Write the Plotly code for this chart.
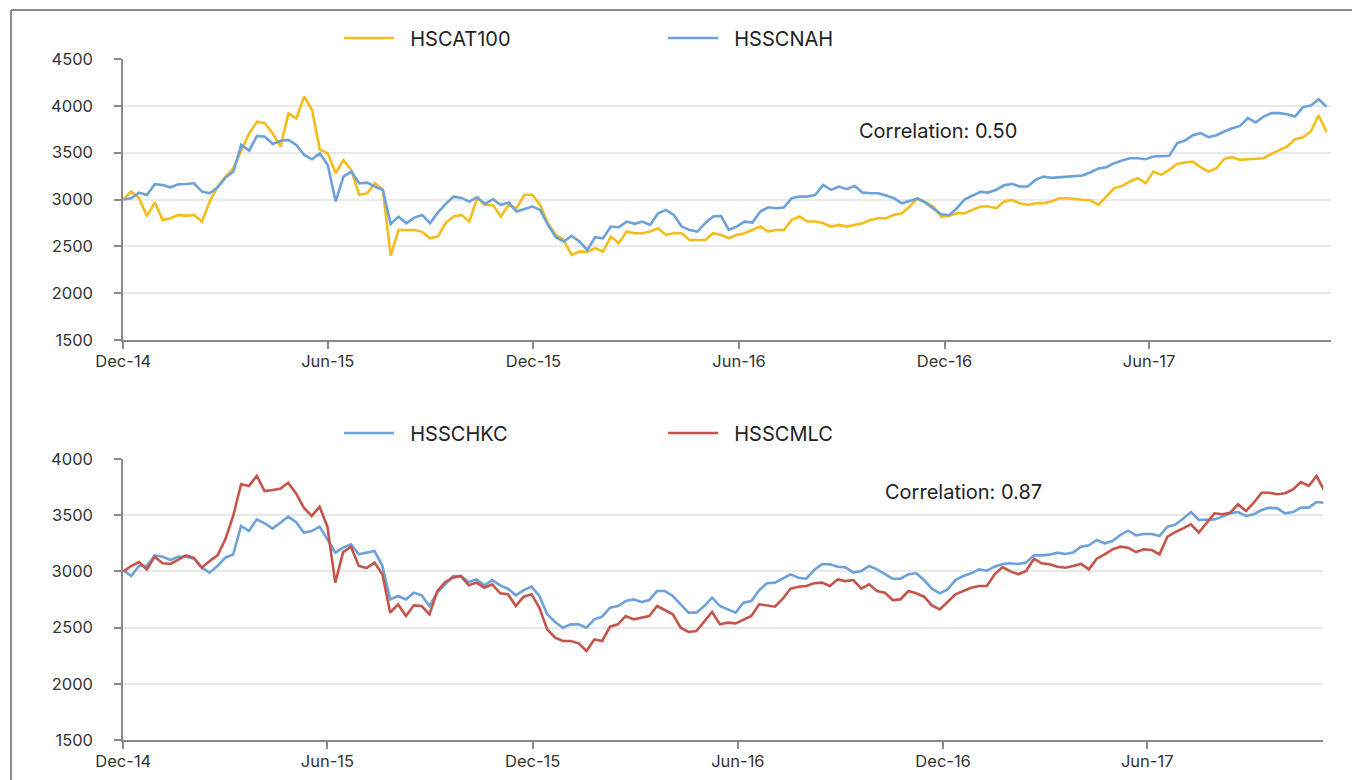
import plotly.graph_objects as go
import pandas as pd

# ---------------- data (weekly samples) ----------------
week_dates = pd.date_range("2014-12-01", periods=154, freq="7D")

hscat100 = [3000, 3085, 3015, 2820, 2970, 2780, 2800, 2835, 2825, 2835,
            2765, 2980, 3140, 3245, 3335, 3530, 3705, 3830, 3815, 3705,
            3565, 3920, 3865, 4100, 3955, 3530, 3495, 3280, 3420, 3315,
            3050, 3065, 3175, 3100, 2400, 2675, 2675, 2675, 2655, 2585,
            2605, 2750, 2818, 2836, 2765, 3015, 2942, 2942, 2818, 2942,
            2907, 3050, 3050, 2942, 2747, 2622, 2568, 2408, 2444, 2444,
            2480, 2444, 2604, 2533, 2658, 2640, 2640, 2658, 2693, 2622,
            2640, 2640, 2568, 2568, 2568, 2640, 2622, 2586, 2622, 2640,
            2675, 2711, 2658, 2675, 2675, 2782, 2818, 2765, 2765, 2747,
            2711, 2729, 2711, 2729, 2747, 2782, 2800, 2800, 2836, 2853,
            2925, 3014, 2967, 2925, 2818, 2825, 2853, 2853, 2889, 2925,
            2925, 2907, 2978, 2996, 2960, 2942, 2960, 2960, 2978, 3014,
            3014, 3003, 2996, 2989, 2942, 3031, 3120, 3145, 3192, 3227,
            3174, 3298, 3263, 3316, 3380, 3395, 3405, 3345, 3298, 3334,
            3434, 3452, 3423, 3430, 3434, 3441, 3487, 3530, 3566, 3644,
            3665, 3726, 3900, 3720]

hsscnah = [3000, 3013, 3073, 3049, 3163, 3155, 3130, 3163, 3166, 3173,
           3084, 3067, 3130, 3234, 3298, 3582, 3522, 3678, 3671, 3593,
           3628, 3636, 3582, 3475, 3429, 3493, 3369, 2980, 3244, 3298,
           3173, 3180, 3137, 3102, 2739, 2817, 2746, 2807, 2835, 2746,
           2860, 2953, 3031, 3017, 2978, 3024, 2953, 3003, 2942, 2967,
           2871, 2896, 2925, 2889, 2729, 2597, 2551, 2611, 2551, 2462,
           2597, 2586, 2711, 2704, 2764, 2740, 2764, 2729, 2853, 2889,
           2836, 2711, 2675, 2658, 2747, 2818, 2825, 2675, 2711, 2764,
           2754, 2871, 2917, 2907, 2914, 3014, 3031, 3031, 3049, 3156,
           3103, 3138, 3110, 3145, 3074, 3067, 3067, 3042, 3014, 2960,
           2989, 3010, 2967, 2907, 2843, 2832, 2907, 3003, 3039, 3081,
           3074, 3103, 3152, 3167, 3138, 3138, 3209, 3245, 3231, 3238,
           3245, 3245, 3256, 3291, 3331, 3345, 3388, 3416, 3441, 3441,
           3430, 3459, 3466, 3466, 3601, 3630, 3687, 3708, 3665, 3687,
           3726, 3761, 3786, 3868, 3822, 3886, 3922, 3922, 3911, 3886,
           3986, 4004, 4070, 3990]

hsschkc = [3012, 2959, 3048, 3048, 3143, 3131, 3101, 3131, 3131, 3113,
           3033, 2988, 3048, 3122, 3152, 3404, 3359, 3463, 3428, 3380,
           3433, 3487, 3439, 3344, 3359, 3398, 3285, 3167, 3211, 3241,
           3152, 3167, 3181, 3048, 2751, 2781, 2751, 2811, 2787, 2692,
           2811, 2885, 2959, 2959, 2906, 2929, 2876, 2923, 2876, 2846,
           2787, 2834, 2864, 2781, 2618, 2550, 2499, 2529, 2529, 2499,
           2573, 2597, 2677, 2692, 2736, 2751, 2727, 2745, 2825, 2825,
           2781, 2707, 2633, 2633, 2692, 2766, 2692, 2662, 2633, 2722,
           2736, 2834, 2894, 2900, 2935, 2974, 2944, 2935, 3012, 3063,
           3063, 3042, 3036, 2989, 3003, 3048, 3018, 2974, 2935, 2935,
           2974, 2983, 2923, 2846, 2805, 2840, 2923, 2959, 2983, 3018,
           3006, 3042, 3066, 3072, 3066, 3078, 3143, 3143, 3149, 3167,
           3155, 3167, 3220, 3232, 3279, 3250, 3270, 3324, 3362, 3321,
           3333, 3333, 3315, 3398, 3416, 3469, 3528, 3457, 3457, 3463,
           3487, 3517, 3528, 3493, 3508, 3546, 3567, 3561, 3517, 3528,
           3567, 3567, 3617, 3611]

hsscmlc = [3000, 3048, 3083, 3018, 3131, 3072, 3066, 3107, 3143, 3120,
           3033, 3092, 3143, 3285, 3493, 3775, 3760, 3849, 3715, 3724,
           3736, 3789, 3694, 3567, 3493, 3576, 3398, 2900, 3172, 3220,
           3048, 3030, 3078, 2974, 2633, 2707, 2603, 2698, 2692, 2618,
           2825, 2906, 2944, 2959, 2876, 2900, 2855, 2885, 2805, 2796,
           2692, 2775, 2796, 2677, 2484, 2410, 2381, 2381, 2360, 2292,
           2395, 2381, 2508, 2529, 2603, 2573, 2588, 2603, 2692, 2656,
           2618, 2499, 2461, 2470, 2559, 2639, 2529, 2544, 2538, 2567,
           2603, 2707, 2698, 2686, 2757, 2846, 2864, 2870, 2894, 2900,
           2870, 2929, 2914, 2923, 2846, 2885, 2825, 2811, 2745, 2751,
           2825, 2805, 2775, 2698, 2662, 2728, 2796, 2825, 2855, 2870,
           2870, 2974, 3039, 3000, 2974, 3003, 3113, 3072, 3063, 3042,
           3033, 3048, 3066, 3018, 3113, 3152, 3196, 3220, 3211, 3172,
           3196, 3190, 3152, 3309, 3350, 3383, 3419, 3345, 3434, 3517,
           3508, 3522, 3597, 3537, 3611, 3700, 3700, 3686, 3695, 3730,
           3795, 3760, 3850, 3715]

tick_dates = ["2014-12-01", "2015-06-01", "2015-12-01",
              "2016-06-01", "2016-12-01", "2017-06-01"]
tick_labels = ["Dec-14", "Jun-15", "Dec-15", "Jun-16", "Dec-16", "Jun-17"]
correlation_texts = ["Correlation: 0.50", "Correlation: 0.87"]

# ---------------- style ----------------
# The page body adds an 8px margin, so the figure is 1352x772 and all
# layout positions below are in figure pixels (page pixels minus 8).
W, H = 1352, 772
YELLOW = "#F3BD1C"
BLUE = "#6CA1D9"
RED = "#C5544B"
AXIS = "#8a8a8a"
GRID = "#e9e9e9"
FONT = "Inter"
PAD = "\u00a0\u00a0"

fig = go.Figure()
fig.add_trace(go.Scatter(x=week_dates, y=hscat100, name=PAD + "HSCAT100", mode="lines",
                         line=dict(color=YELLOW, width=2.6), xaxis="x", yaxis="y",
                         legend="legend"))
fig.add_trace(go.Scatter(x=week_dates, y=hsscnah, name=PAD + "HSSCNAH", mode="lines",
                         line=dict(color=BLUE, width=2.6), xaxis="x", yaxis="y",
                         legend="legend"))
fig.add_trace(go.Scatter(x=week_dates, y=hsschkc, name=PAD + "HSSCHKC", mode="lines",
                         line=dict(color=BLUE, width=2.6), xaxis="x2", yaxis="y2",
                         legend="legend2"))
fig.add_trace(go.Scatter(x=week_dates, y=hsscmlc, name=PAD + "HSSCMLC", mode="lines",
                         line=dict(color=RED, width=2.6), xaxis="x2", yaxis="y2",
                         legend="legend2"))

x_common = dict(type="date", tickmode="array", tickvals=tick_dates, ticktext=tick_labels,
                ticks="outside", ticklen=7, tickwidth=1.5, tickcolor=AXIS,
                showline=True, linecolor=AXIS, linewidth=2, showgrid=False,
                zeroline=False, tickfont=dict(family=FONT, size=16.5, color="#333333"),
                ticklabelstandoff=-2, automargin=False)
y_common = dict(dtick=500, tick0=1500, ticks="outside", ticklen=7, tickwidth=1.5,
                tickcolor=AXIS, showline=True, linecolor=AXIS, linewidth=2,
                showgrid=True, gridcolor=GRID, gridwidth=1.5, zeroline=False,
                tickfont=dict(family=FONT, size=16.5, color="#333333"),
                ticklabelstandoff=18, automargin=False)

x_start = week_dates[0]
legend_common = dict(orientation="h", xanchor="left", yanchor="middle",
                     font=dict(family=FONT, size=20, color="#222222"),
                     itemwidth=50, entrywidth=259, bgcolor="rgba(0,0,0,0)",
                     borderwidth=0)
fig.update_layout(
    template="none",
    width=W, height=H, autosize=False,
    margin=dict(l=0, r=0, t=0, b=0, pad=0),
    paper_bgcolor="white", plot_bgcolor="white",
    font=dict(family=FONT, color="#222222"),
    xaxis=dict(x_common, domain=[115.3 / W, 1323 / W], anchor="y",
               range=[x_start, week_dates[-1] + pd.Timedelta(days=4)]),
    yaxis=dict(y_common, domain=[1 - 332 / H, 1 - 51 / H], anchor="x",
               range=[1500, 4500]),
    xaxis2=dict(x_common, domain=[115.3 / W, 1315.3 / W], anchor="y2",
                range=[x_start, week_dates[-1] - pd.Timedelta(days=1)]),
    yaxis2=dict(y_common, domain=[1 - 732 / H, 1 - 451 / H], anchor="x2",
                range=[1500, 4000]),
    legend=dict(legend_common, x=331 / W, y=1 - 30 / H),
    legend2=dict(legend_common, x=331 / W, y=1 - 425 / H),
    showlegend=True,
)

fig.add_annotation(text=correlation_texts[0], xref="paper", yref="paper",
                   x=849 / W, y=1 - 123 / H, xanchor="left", yanchor="middle",
                   showarrow=False, font=dict(family=FONT, size=20, color="#222222"))
fig.add_annotation(text=correlation_texts[1], xref="paper", yref="paper",
                   x=875 / W, y=1 - 484 / H, xanchor="left", yanchor="middle",
                   showarrow=False, font=dict(family=FONT, size=20, color="#222222"))

# outer frame (left and top edges)
fig.add_shape(type="line", xref="paper", yref="paper", x0=3 / W, x1=3 / W,
              y0=0, y1=1 - 2 / H, line=dict(color=AXIS, width=2))
fig.add_shape(type="line", xref="paper", yref="paper", x0=3 / W, x1=1,
              y0=1 - 2 / H, y1=1 - 2 / H, line=dict(color=AXIS, width=2))

fig.write_html("out.html")
